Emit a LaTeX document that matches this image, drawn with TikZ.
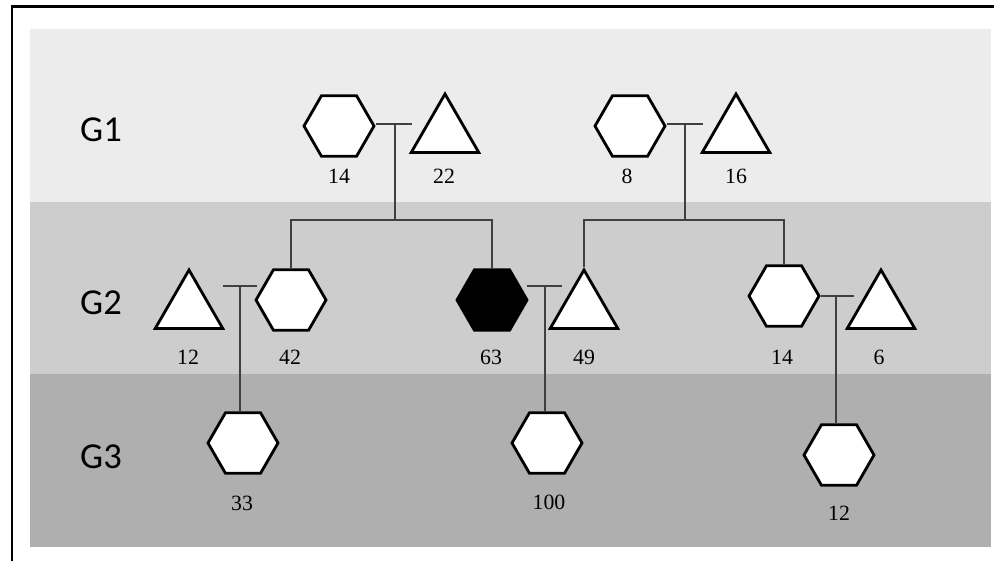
\documentclass[tikz,border=0pt]{standalone}
\usepackage{fontspec}
\setmainfont{Liberation Serif}
\newfontfamily\gfont{Carlito}
\usepackage{tikz}
\usetikzlibrary{shapes.geometric}
\pgfdeclarelayer{background}
\pgfdeclarelayer{foreground}
\pgfsetlayers{background,main,foreground}
\definecolor{gone}{HTML}{ECECEC}
\definecolor{gtwo}{HTML}{CDCDCD}
\definecolor{gthree}{HTML}{AFAFAF}
\definecolor{linkgray}{HTML}{404040}

\begin{document}
\begin{tikzpicture}[x=0.025cm,y=-0.025cm,
  hexa/.style={draw,fill=white,line width=2pt,regular polygon,regular polygon sides=6,minimum size=1.75cm,inner sep=0pt},
  tri/.style={draw,fill=white,line width=2pt,regular polygon,regular polygon sides=3,minimum size=1.95cm,inner sep=0pt},
  num/.style={font=\fontsize{15.5}{18}\selectfont,inner sep=0pt},
  gen/.style={font=\gfont\fontsize{26}{30}\selectfont,inner sep=0pt},
  link/.style={draw=linkgray,line width=0.9pt}]
\useasboundingbox (0,0) rectangle (994,561);
\begin{pgfonlayer}{background}
\fill[white] (0,0) rectangle (994,561);
\fill[gone] (30,29) rectangle (991,202);
\fill[gtwo] (30,202) rectangle (991,374);
\fill[gthree] (30,374) rectangle (991,547);
\draw[line width=1.6pt] (12,561) -- (12,6.5) -- (994,6.5);
\end{pgfonlayer}
% generations
\node[gen] (g1) at (101,130) {G1};
\node[gen] (g2) at (101,303) {G2};
\node[gen] (g3) at (101,457) {G3};
\begin{pgfonlayer}{foreground}
% G1
\node[hexa] (h14) at (339,126) {};
\node[tri] (t22) at (445,133) {};
\node[hexa] (h8) at (630,126) {};
\node[tri] (t16) at (736,133) {};
% G2
\node[tri] (t12) at (189,309) {};
\node[hexa] (h42) at (291,300) {};
\node[hexa,fill=black] (h63) at (492,300) {};
\node[tri] (t49) at (584,309) {};
\node[hexa] (h14b) at (784,296) {};
\node[tri] (t6) at (881,309) {};
% G3
\node[hexa] (h33) at (243,443) {};
\node[hexa] (h100) at (547,443) {};
\node[hexa] (h12) at (839,455) {};
\end{pgfonlayer}
% numbers
\node[num] (l14) at (339,176) {14};
\node[num] (l22) at (444,176) {22};
\node[num] (l8) at (627,176) {8};
\node[num] (l16) at (736,176) {16};
\node[num] (l12) at (188,357) {12};
\node[num] (l42) at (290,357) {42};
\node[num] (l63) at (491,357) {63};
\node[num] (l49) at (584,357) {49};
\node[num] (l14b) at (782,357) {14};
\node[num] (l6) at (879,357) {6};
\node[num] (l33) at (242,503) {33};
\node[num] (l100) at (549,502) {100};
\node[num] (l12b) at (839,513) {12};
% couples and children
\coordinate (m1) at (395,124);
\coordinate (m1e) at (412,124);
\coordinate (s1) at (395,220);
\draw[link] (h14.east |- m1) -- (m1e);
\draw[link] (m1) -- (s1);
\draw[link] (h42.north) |- (s1) -| (h63.north);
\coordinate (m2) at (685,124);
\coordinate (m2e) at (703,124);
\coordinate (s2) at (685,220);
\draw[link] (h8.east |- m2) -- (m2e);
\draw[link] (m2) -- (s2);
\draw[link] (t49.north) |- (s2) -| (h14b.north);
\coordinate (m3w) at (223,286);
\coordinate (m3) at (240,286);
\coordinate (m3e) at (257,286);
\draw[link] (m3w) -- (m3e);
\draw[link] (m3) -- (m3 |- h33.north);
\coordinate (m4w) at (527,286);
\coordinate (m4) at (545,286);
\coordinate (m4e) at (562,286);
\draw[link] (m4w) -- (m4e);
\draw[link] (m4) -- (m4 |- h100.north);
\coordinate (m5) at (836,296);
\coordinate (m5e) at (854,296);
\draw[link] (h14b.east) -- (m5e);
\draw[link] (m5) -- (m5 |- h12.north);
\end{tikzpicture}
\end{document}
